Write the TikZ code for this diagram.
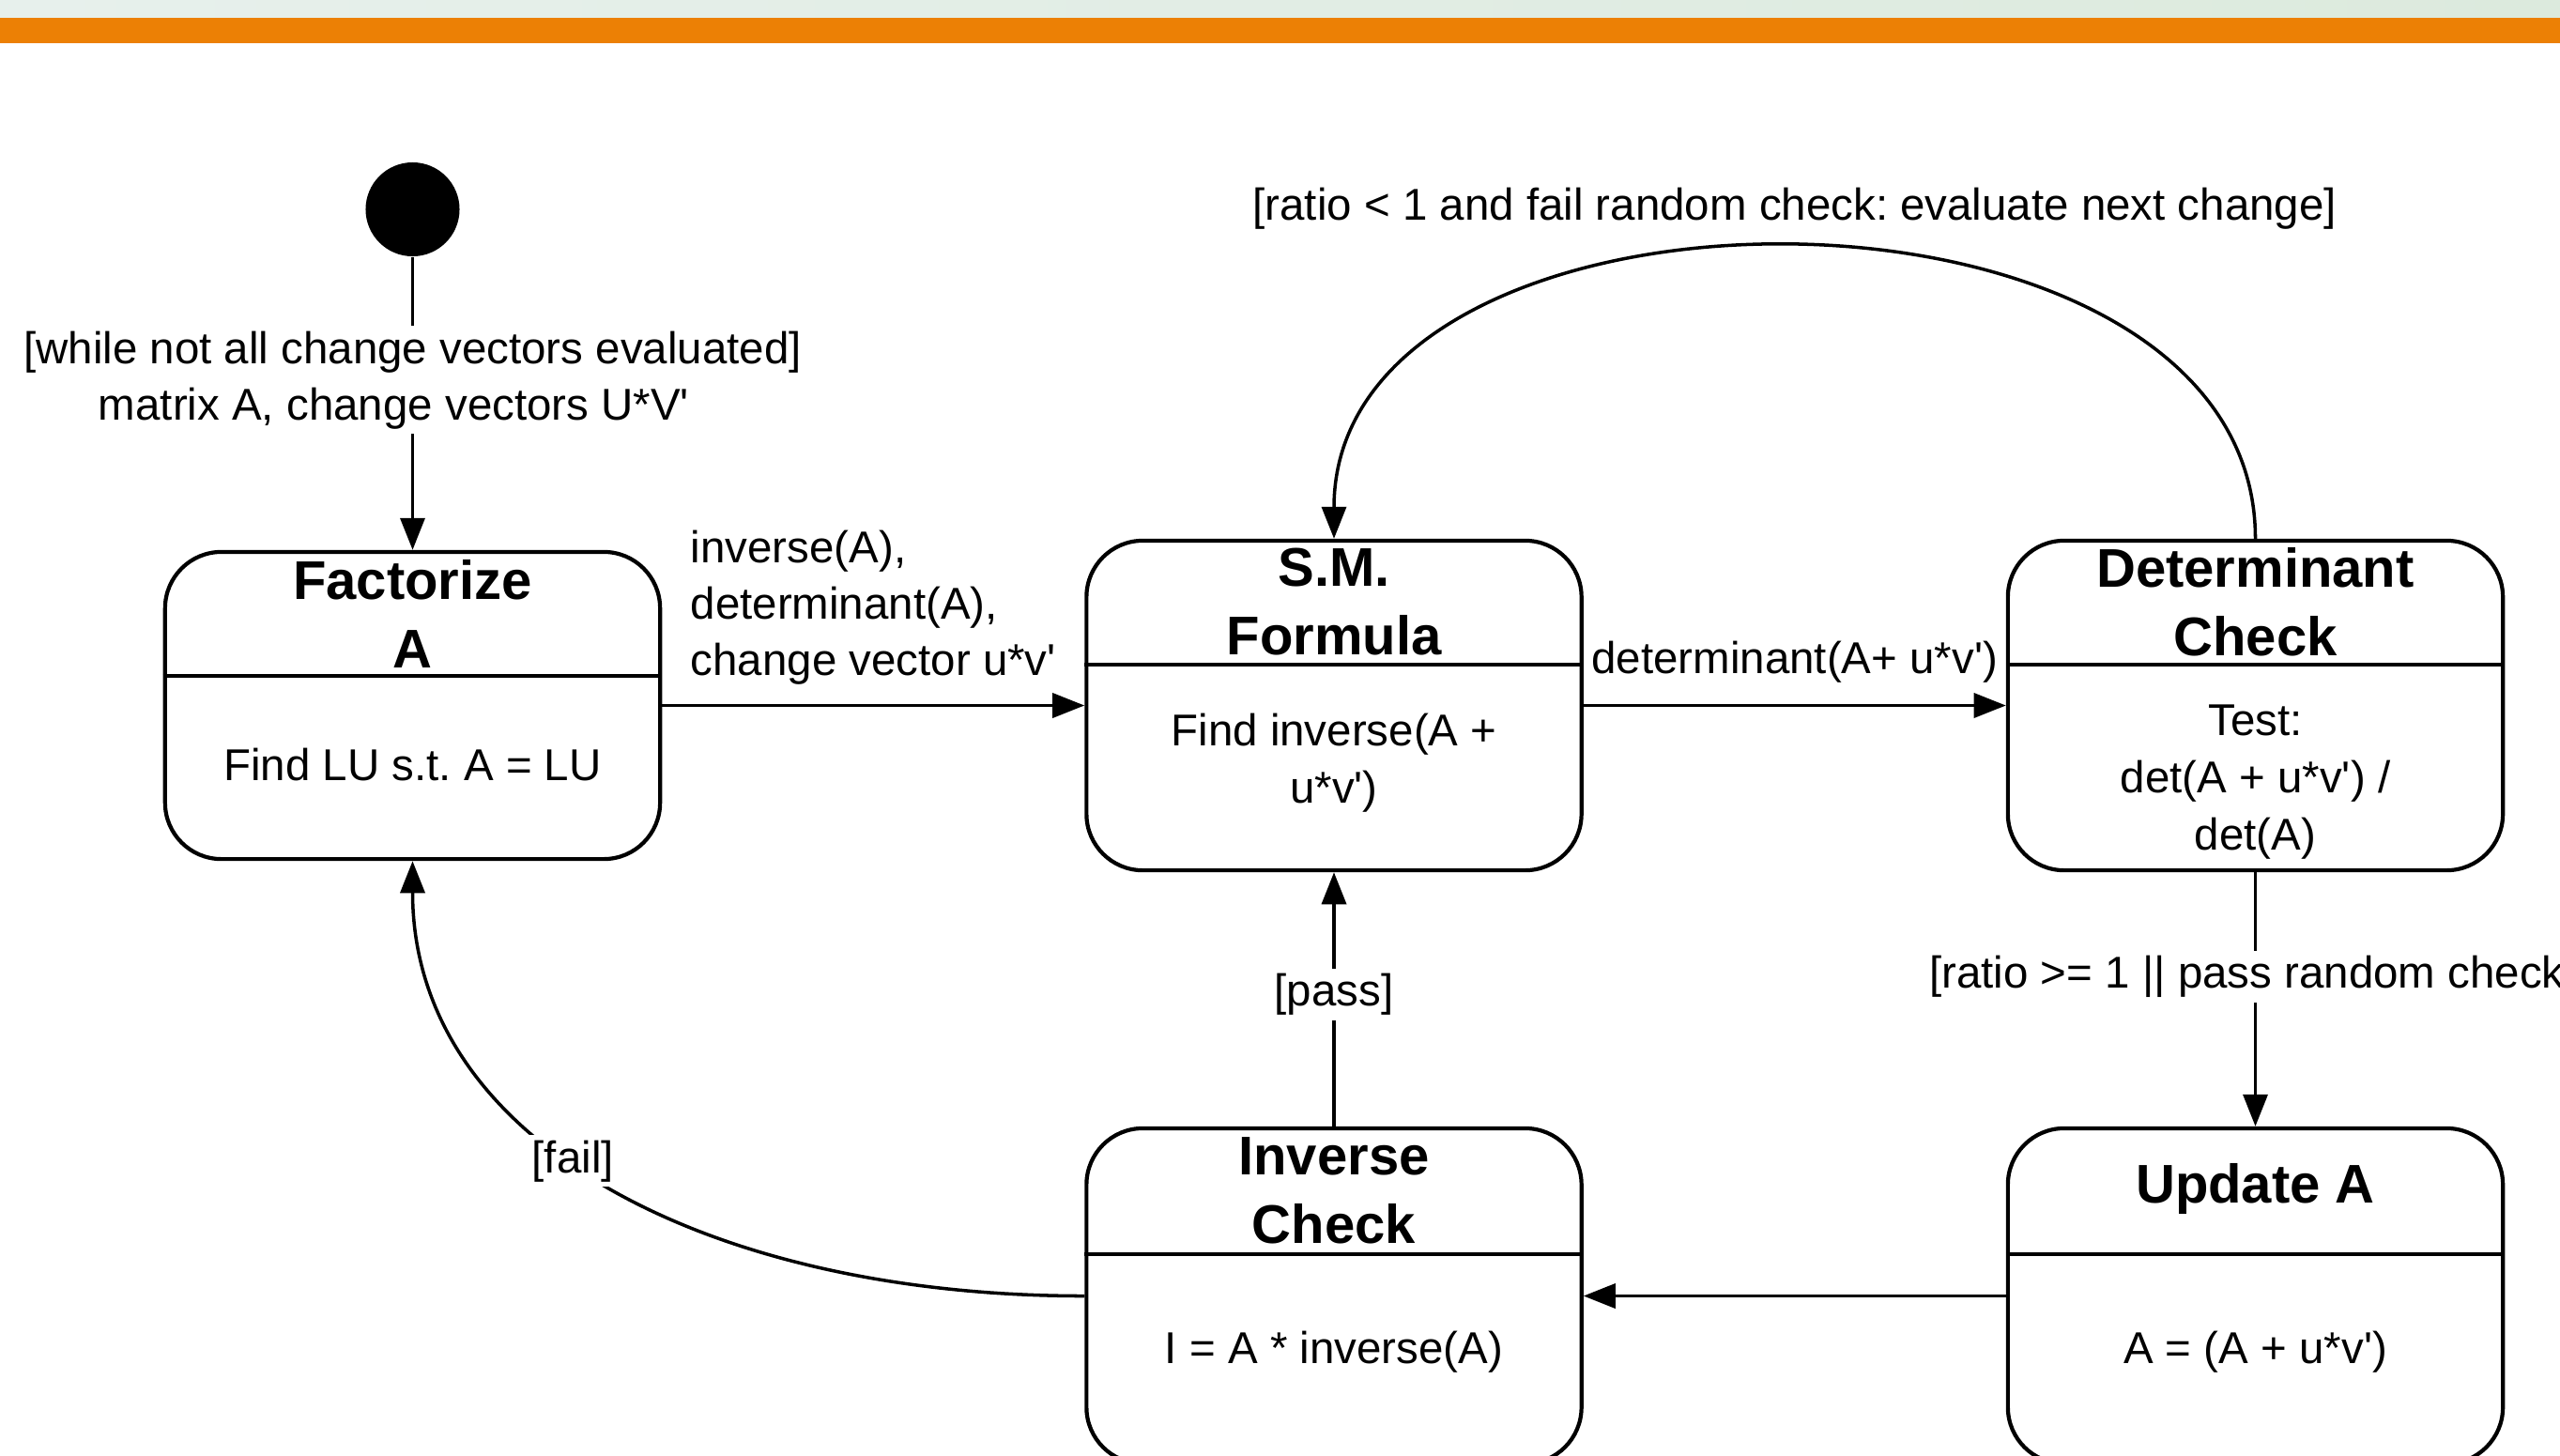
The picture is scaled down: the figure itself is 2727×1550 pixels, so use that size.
\documentclass[tikz,border=0pt]{standalone}
\usepackage{fontspec}
\setmainfont{Liberation Sans}
\usetikzlibrary{arrows.meta}
\definecolor{bandorange}{RGB}{236,128,5}
\definecolor{bandgreenL}{RGB}{231,240,236}
\definecolor{bandgreenR}{RGB}{220,234,221}
\newcommand{\myq}{\textquotesingle}
\frenchspacing
\begin{document}
\begin{tikzpicture}[x=0.01cm, y=-0.01cm,
  statebox/.style={draw, line width=1.2pt, rounded corners=0.6cm, minimum width=5.27cm, inner sep=0pt},
  divline/.style={line width=1.2pt},
  ttl/.style={font=\fontsize{16.5}{20.75}\selectfont\bfseries, align=center, inner sep=0pt},
  bodytxt/.style={font=\fontsize{13.5}{17.36}\selectfont, align=center, inner sep=0pt},
  edge/.style={line width=1pt, -{Triangle[length=0.34cm,width=0.26cm]}},
  lbl/.style={font=\fontsize{13.5}{17.07}\selectfont, fill=white, inner sep=1.5pt, align=center},
]
\useasboundingbox (0,0) rectangle (2727,1550);
\clip (0,0) rectangle (2727,1550);
% top band
\fill[left color=bandgreenL, right color=bandgreenR] (0,0) rectangle (2727,19);
\fill[bandorange] (0,19) rectangle (2727,46);

% divider levels
\coordinate (dtop1) at (0,720);
\coordinate (dtop2) at (0,708);
\coordinate (dbot) at (0,1336);

% initial state
\node[circle, fill=black, minimum size=1cm, inner sep=0pt] (init) at (439.5,223) {};

% Factorize A
\node[statebox, minimum height=3.27cm] (fact) at (439.5,751.5) {};
\draw[divline] (fact.west |- dtop1) -- (fact.east |- dtop1);
\node[ttl] (factT) at (439.5,654) {Factorize\\A};
\node[bodytxt] (factB) at (439.5,815) {Find LU s.t. A = LU};

% S.M. Formula
\node[statebox, minimum height=3.51cm] (sm) at (1421,751.5) {};
\draw[divline] (sm.west |- dtop2) -- (sm.east |- dtop2);
\node[ttl] (smT) at (1421,641) {S.M.\\Formula};
\node[bodytxt] (smB) at (1421,813) {Find inverse(A +\\u*v\myq)};

% Determinant Check
\node[statebox, minimum height=3.51cm] (det) at (2402.5,751.5) {};
\draw[divline] (det.west |- dtop2) -- (det.east |- dtop2);
\node[ttl] (detT) at (2402.5,641) {Determinant\\Check};
\node[bodytxt] (detB) at (2402.5,833) {Test:\\det(A + u*v\myq) /\\det(A)};

% Inverse Check
\node[statebox, minimum height=3.57cm] (inv) at (1421,1380.5) {};
\draw[divline] (inv.west |- dbot) -- (inv.east |- dbot);
\node[ttl] (invT) at (1421,1268) {Inverse\\Check};
\node[bodytxt] (invB) at (1421,1440) {I = A * inverse(A)};

% Update A
\node[statebox, minimum height=3.57cm] (upd) at (2402.5,1380.5) {};
\draw[divline] (upd.west |- dbot) -- (upd.east |- dbot);
\node[ttl] (updT) at (2402.5,1266) {Update A};
\node[bodytxt] (updB) at (2402.5,1440) {A = (A + u*v\myq)};

% connectors
\draw[edge] (init) -- node[lbl, pos=0.42] (labInit) {[while not all change vectors evaluated]\\matrix A, change vectors U*V\myq\hbox to 0.4cm{}} (fact);
\draw[edge] (fact.east) -- node[lbl, fill=none, align=left, yshift=1.04cm] (labFS) {inverse(A),\\determinant(A),\\change vector u*v\myq} (sm.west);
\draw[edge] (sm.east) -- node[lbl, yshift=0.465cm] (labSD) {determinant(A+ u*v\myq)} (det.west);
\draw[edge] (det.north) .. controls +(0,-413) and +(0,-413) .. node[lbl, pos=0.5, yshift=0.42cm] (labLoop) {[ratio < 1 and fail random check: evaluate next change]} (sm.north);
\draw[edge] (det.south) -- node[lbl, pos=0.41, xshift=-0.09cm] (labDU) {[ratio >= 1 || pass random check} (upd.north);
\draw[edge] (upd.west) -- (inv.east);
\draw[edge] (inv.north) -- node[lbl, pos=0.52] (labPass) {[pass]} (sm.south);
\draw[edge] (inv.west) .. controls +(-400,0) and +(0,300) .. node[lbl, pos=0.55] (labFail) {[fail]} (fact.south);
\end{tikzpicture}
\end{document}
